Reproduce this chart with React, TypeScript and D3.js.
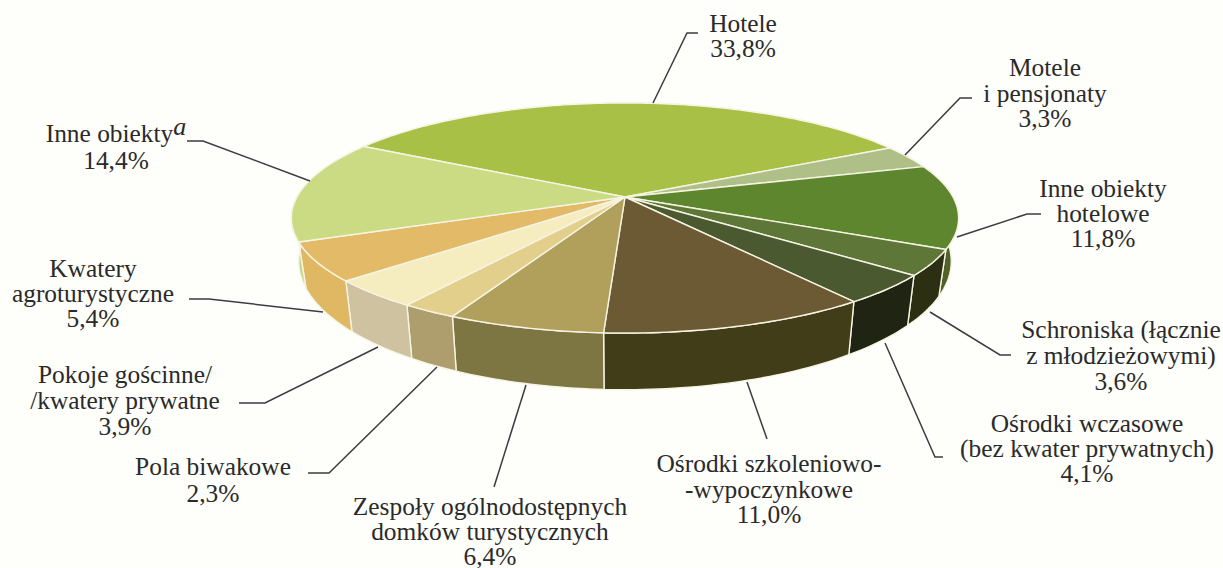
import React from "react";
import * as d3 from "d3";

const categories = [
  "Hotele", "Motele i pensjonaty", "Inne obiekty hotelowe", "Schroniska", "Ośrodki wczasowe",
  "Ośrodki szkoleniowo-wypoczynkowe", "Zespoły domków", "Pola biwakowe", "Pokoje gościnne",
  "Kwatery agroturystyczne", "Inne obiekty",
];
const values = [33.8, 3.3, 11.8, 3.6, 4.1, 11.0, 6.4, 2.3, 3.9, 5.4, 14.4];
const topColors = ["#a8c046", "#aebf88", "#5e862f", "#5e7738", "#4a5930", "#6b5a33", "#b0a05c", "#e3cf8c", "#f5ecc0", "#e3bb68", "#cbdb84"];
const wallColors = ["#a8c046", "#aebf88", "#50612a", "#2c2f12", "#1f2512", "#413d19", "#7d7643", "#ae9e6e", "#cfc2a0", "#e0b864", "#c8d68a"];

const labelLines: string[][] = [
  ["Hotele", "33,8%"],
  ["Motele", "i pensjonaty", "3,3%"],
  ["Inne obiekty", "hotelowe", "11,8%"],
  ["Schroniska (łącznie", "z młodzieżowymi)", "3,6%"],
  ["Ośrodki wczasowe", "(bez kwater prywatnych)", "4,1%"],
  ["Ośrodki szkoleniowo-", "-wypoczynkowe", "11,0%"],
  ["Zespoły ogólnodostępnych", "domków turystycznych", "6,4%"],
  ["Pola biwakowe", "2,3%"],
  ["Pokoje gościnne/", "/kwatery prywatne", "3,9%"],
  ["Kwatery", "agroturystyczne", "5,4%"],
  ["Inne obiekty", "14,4%"],
];
const labelAnchors: [number, number][] = [
  [743, 32], [1045, 76], [1103, 197], [1121, 338], [1087, 432], [769, 472],
  [490, 515], [213, 475], [125, 383], [93, 277], [116, 142],
];
const lineSteps = [25, 25.5, 25, 26, 25, 25.5, 25, 27, 26, 25, 27];
const leaders: [number, number][][] = [
  [[653, 103], [687, 33], [698, 33]],
  [[905, 155], [960, 98], [972, 98]],
  [[957, 237], [1027, 214], [1041, 214]],
  [[930, 312], [1000, 355], [1011, 355]],
  [[885, 343], [935, 457], [943, 457]],
  [[747, 382], [767, 439]],
  [[526, 385], [494, 487]],
  [[437, 367], [329, 473], [308, 473]],
  [[378, 347], [265, 403], [239, 403]],
  [[323, 312], [209, 299], [189, 299]],
  [[310, 181], [203, 141], [187, 141]],
];

const APEX_X = 625, APEX_Y = 197;
const K = 0.1826, A = 111.2, B = 328;
const START = (-60.3 * Math.PI) / 180;
const WALL_SX = 0.978, WALL_SY = 1.115, WALL_DY = 41;

const rim = (a: number): [number, number] => {
  const u = Math.sin(a), v = -Math.cos(a);
  const w = 1 - K * v;
  return [APEX_X + (B * u) / w, APEX_Y + (A * v) / w];
};
const rimLow = (a: number): [number, number] => {
  const [x, y] = rim(a);
  return [APEX_X + (x - APEX_X) * WALL_SX, APEX_Y + (y - APEX_Y) * WALL_SY + WALL_DY];
};
const sample = (a0: number, a1: number) => {
  const n = Math.max(4, Math.ceil((a1 - a0) / 0.02));
  return d3.range(n + 1).map((i) => a0 + ((a1 - a0) * i) / n);
};

const pieGen = d3.pie<number>().sort(null).startAngle(START).endAngle(START + 2 * Math.PI);
const arcs = pieGen(values);
const line = d3.line();

const EDGE = "#f6f4e2";
const FONT = "'Liberation Serif', 'Times New Roman', serif";

export default function App() {
  return (
    <svg width={1223} height={568} style={{ position: "absolute", left: 0, top: 0, background: "#fefefb" }}>
      <g>
        {arcs.map((d, i) => {
          const as = sample(d.startAngle, d.endAngle);
          const pts = [...as.map(rim), ...as.slice().reverse().map(rimLow)];
          return <path key={categories[i]} d={line(pts) + "Z"} fill={wallColors[i]} stroke={EDGE} strokeWidth={1.4} strokeLinejoin="round" />;
        })}
      </g>
      <g>
        {arcs.map((d, i) => {
          const pts: [number, number][] = [[APEX_X, APEX_Y], ...sample(d.startAngle, d.endAngle).map(rim)];
          return <path key={categories[i]} d={line(pts) + "Z"} fill={topColors[i]} stroke={EDGE} strokeWidth={1.4} strokeLinejoin="round" />;
        })}
      </g>
      <g fill="none" stroke="#3c3c42" strokeWidth={1.5}>
        {leaders.map((l, i) => <path key={i} d={line(l) ?? ""} />)}
      </g>
      <g fontFamily={FONT} fontSize={25.4} fill="#2a2a2a" textAnchor="middle">
        {labelLines.map((lines, i) =>
          lines.map((t, j) => (
            <text key={j} x={labelAnchors[i][0]} y={labelAnchors[i][1] + j * lineSteps[i]}>
              {t}
              {i === 10 && j === 0 ? <tspan fontStyle="italic" fontSize={26} dy={-7}>a</tspan> : null}
            </text>
          ))
        )}
      </g>
    </svg>
  );
}
